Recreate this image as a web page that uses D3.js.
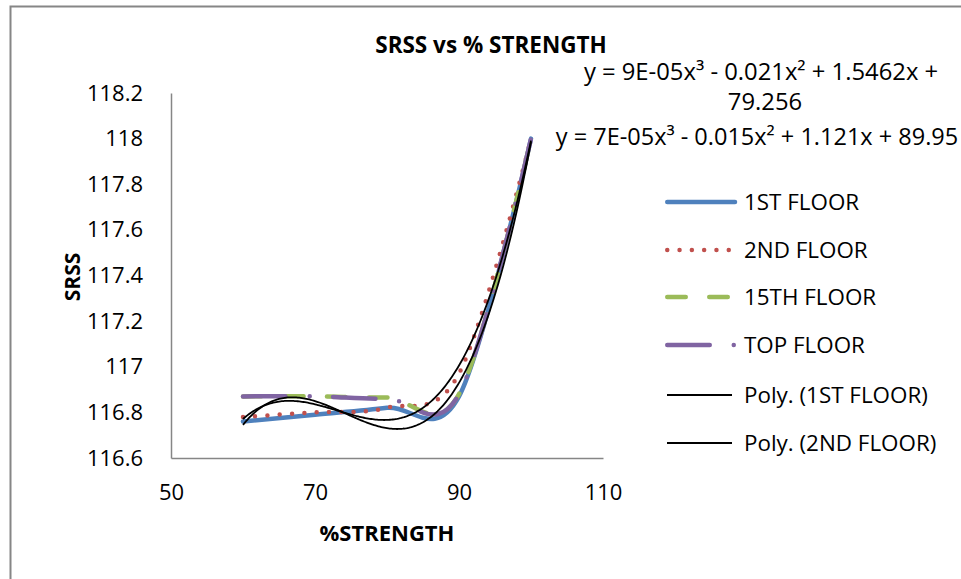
<!DOCTYPE html>
<html><head><meta charset="utf-8">
<script src="https://cdn.jsdelivr.net/npm/d3@7"></script>
<style>body{margin:0;background:#fff} text{font-family:"Open Sans",sans-serif;fill:#000}</style>
</head><body><svg id="c" width="961" height="579"></svg>
<script>
// ---- data ----
const strength = [60, 70, 80, 90, 100];
const floor1   = [116.76, 116.79, 116.82, 116.87, 118.0];
const floor2   = [116.78, 116.80, 116.82, 116.97, 118.0];
const floor15  = [116.87, 116.87, 116.865, 116.88, 118.0];
const floorTop = [116.87, 116.87, 116.86, 116.88, 118.0];
const seriesNames = ["1ST FLOOR", "2ND FLOOR", "15TH FLOOR", "TOP FLOOR"];
const trendNames = ["Poly. (1ST FLOOR)", "Poly. (2ND FLOOR)"];
const xTicks = [50, 70, 90, 110];
const yTicks = [116.6, 116.8, 117, 117.2, 117.4, 117.6, 117.8, 118, 118.2];
const eq1Lines = ["y = 9E-05x³ - 0.021x² + 1.5462x +", "79.256"];
const eq2Line = "y = 7E-05x³ - 0.015x² + 1.121x + 89.95";
const chartTitle = "SRSS vs % STRENGTH";
const xTitle = "%STRENGTH";
const yTitle = "SRSS";

// ---- setup ----
const svg = d3.select("#c");
const x = d3.scaleLinear().domain([50, 110]).range([171, 603]);
const y = d3.scaleLinear().domain([116.6, 118.2]).range([458, 93]);
const axisColor = "#868686";

// chart frame
svg.append("path").attr("d", "M10.5,579V6.5H961").attr("fill", "none")
  .attr("stroke", axisColor).attr("stroke-width", 2);

// axes
const gy = svg.append("g").attr("transform", "translate(171,0)")
  .call(d3.axisLeft(y).tickValues(yTicks).tickSize(0).tickPadding(28)
    .tickFormat(d => String(+d.toFixed(1))));
const gx = svg.append("g").attr("transform", "translate(0,458)")
  .call(d3.axisBottom(x).tickValues(xTicks).tickSize(0).tickPadding(26));
[gx, gy].forEach(g => {
  g.select(".domain").attr("stroke", axisColor).attr("stroke-width", 1.5);
  g.selectAll("text").attr("font-family", "Open Sans").attr("font-size", 22).attr("fill", "#000");
});

// series styles
const styles = [
  {color: "#4F81BD", dash: null},
  {color: "#C0504D", dash: "0 12.3"},
  {color: "#9BBB59", dash: "18.5 23.5"},
  {color: "#8064A2", dash: "42.5 24 0 23.5"}
];
const allSeries = [floor1, floor2, floor15, floorTop];

const smooth = d3.line().x(d => x(d[0])).y(d => y(d[1])).curve(d3.curveCardinal.tension(0));
allSeries.forEach((vals, i) => {
  const pts = strength.map((s, j) => [s, vals[j]]);
  svg.append("path").attr("d", smooth(pts)).attr("fill", "none")
    .attr("stroke", styles[i].color).attr("stroke-width", 4.5)
    .attr("stroke-linecap", "round").attr("stroke-linejoin", "round")
    .attr("stroke-dasharray", styles[i].dash);
});

// polynomial (cubic) least-squares trendlines computed from the series data
function cubicFit(xs, ys) {
  const c = 80, s = 10;
  const A = [[0,0,0,0],[0,0,0,0],[0,0,0,0],[0,0,0,0]], b = [0,0,0,0];
  xs.forEach((xv, k) => {
    const t = (xv - c) / s, p = [1, t, t*t, t*t*t];
    for (let i = 0; i < 4; i++) { b[i] += p[i] * ys[k]; for (let j = 0; j < 4; j++) A[i][j] += p[i] * p[j]; }
  });
  for (let i = 0; i < 4; i++) {
    let m = i; for (let r = i+1; r < 4; r++) if (Math.abs(A[r][i]) > Math.abs(A[m][i])) m = r;
    [A[i], A[m]] = [A[m], A[i]]; [b[i], b[m]] = [b[m], b[i]];
    for (let r = i+1; r < 4; r++) { const f = A[r][i] / A[i][i]; for (let j = i; j < 4; j++) A[r][j] -= f * A[i][j]; b[r] -= f * b[i]; }
  }
  const co = [0,0,0,0];
  for (let i = 3; i >= 0; i--) { let v = b[i]; for (let j = i+1; j < 4; j++) v -= A[i][j] * co[j]; co[i] = v / A[i][i]; }
  return xv => { const t = (xv - c) / s; return co[0] + co[1]*t + co[2]*t*t + co[3]*t*t*t; };
}
const lin = d3.line().x(d => x(d[0])).y(d => y(d[1]));
[floor1, floor2].forEach(vals => {
  const f = cubicFit(strength, vals);
  const xs = d3.range(0, 201).map(i => strength[0] + (strength[strength.length-1] - strength[0]) * i / 200);
  svg.append("path").attr("d", lin(xs.map(v => [v, f(v)]))).attr("fill", "none")
    .attr("stroke", "#000").attr("stroke-width", 1.8);
});

// titles
svg.append("text").attr("x", 491).attr("y", 53).attr("text-anchor", "middle")
  .attr("font-size", 22.5).attr("font-weight", "bold").text(chartTitle);
svg.append("text").attr("x", 387).attr("y", 541).attr("text-anchor", "middle")
  .attr("font-size", 22).attr("font-weight", "bold").text(xTitle);
svg.append("text").attr("transform", "translate(80,277) rotate(-90)").attr("text-anchor", "middle")
  .attr("font-size", 21).attr("font-weight", "bold").text(yTitle);

// trendline equations
svg.append("text").attr("x", 761).attr("y", 80).attr("text-anchor", "middle")
  .attr("font-size", 23.8).text(eq1Lines[0]);
svg.append("text").attr("x", 765).attr("y", 110).attr("text-anchor", "middle")
  .attr("font-size", 23.8).text(eq1Lines[1]);
svg.append("text").attr("x", 757).attr("y", 145).attr("text-anchor", "middle")
  .attr("font-size", 23.5).text(eq2Line);

// legend
const legendNames = seriesNames.concat(trendNames);
const legY = [202, 250, 297, 345, 395, 443];
legendNames.forEach((name, i) => {
  const g = svg.append("g");
  if (i < 4) {
    g.append("line").attr("x1", 667.25).attr("x2", i === 0 ? 735 : (i === 1 ? 732 : 734))
      .attr("y1", legY[i]).attr("y2", legY[i])
      .attr("stroke", styles[i].color).attr("stroke-width", 4.5)
      .attr("stroke-linecap", "round").attr("stroke-dasharray", styles[i].dash);
  } else {
    g.append("line").attr("x1", 667).attr("x2", 732).attr("y1", legY[i]).attr("y2", legY[i])
      .attr("stroke", "#000").attr("stroke-width", 1.8);
  }
  g.append("text").attr("x", 744).attr("y", legY[i]).attr("dy", "0.35em")
    .attr("font-size", 22.4).text(name);
});
</script></body></html>
